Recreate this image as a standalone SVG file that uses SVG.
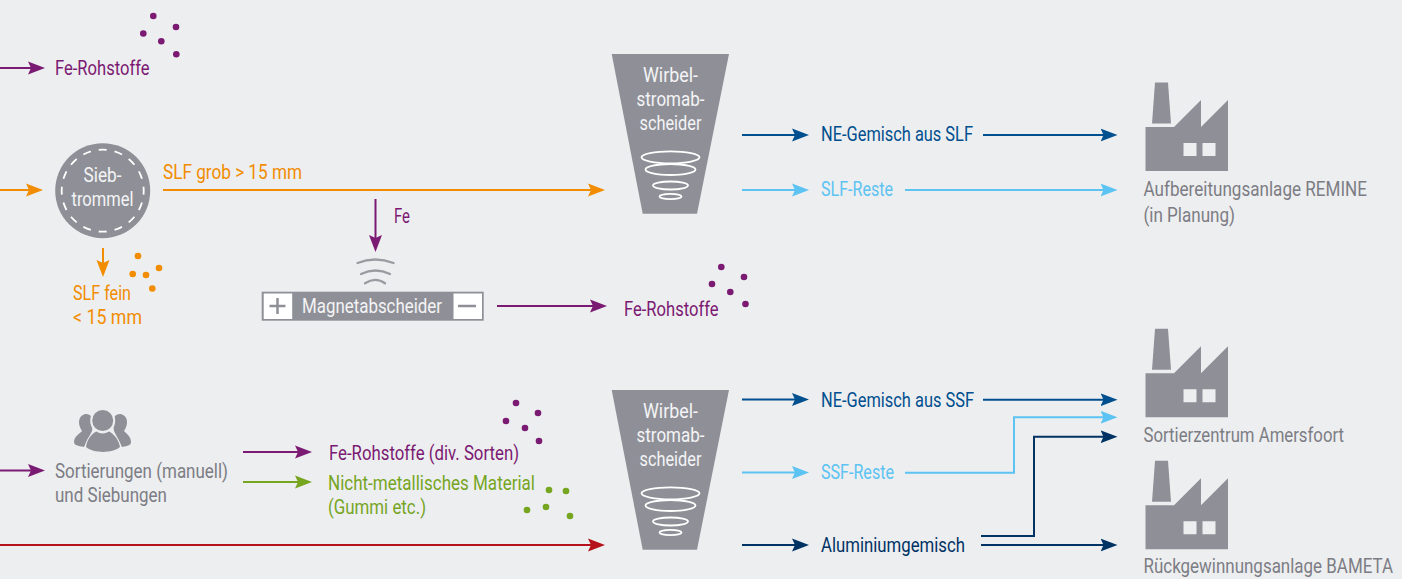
<svg xmlns="http://www.w3.org/2000/svg" width="1402" height="579" viewBox="0 0 1402 579">
<style>
text{font-family:Roboto,"Liberation Sans",sans-serif;font-size:19.5px}
.g{fill:#7c7d84}.w{fill:#f4f4f6;text-anchor:middle}.p{fill:#7b1a72}.o{fill:#f28c00}.n{fill:#004f8f}.l{fill:#5cc3f2}.d{fill:#003263}.v{fill:#76a51f}
.c line,.c path{fill:none;stroke-width:2}
.sp{stroke:#7b1a72}.so{stroke:#f28c00}.sn{stroke:#004f8f}.sl{stroke:#5cc3f2}.sd{stroke:#003263}.sr{stroke:#b5121b}.sv{stroke:#76a51f}
.shape{fill:#8f9097}.ring{fill:none;stroke:#fff;stroke-width:1.8}
</style>
<defs>
<marker id="ap" markerUnits="userSpaceOnUse" markerWidth="18" markerHeight="14" refX="11" refY="7" orient="auto"><path d="M0,.5 L17,7 L0,13.500 L3,7Z" fill="#7b1a72"/></marker>
<marker id="ao" markerUnits="userSpaceOnUse" markerWidth="18" markerHeight="14" refX="11" refY="7" orient="auto"><path d="M0,.5 L17,7 L0,13.500 L3,7Z" fill="#f28c00"/></marker>
<marker id="an" markerUnits="userSpaceOnUse" markerWidth="18" markerHeight="14" refX="11" refY="7" orient="auto"><path d="M0,.5 L17,7 L0,13.500 L3,7Z" fill="#004f8f"/></marker>
<marker id="al" markerUnits="userSpaceOnUse" markerWidth="18" markerHeight="14" refX="11" refY="7" orient="auto"><path d="M0,.5 L17,7 L0,13.500 L3,7Z" fill="#5cc3f2"/></marker>
<marker id="ad" markerUnits="userSpaceOnUse" markerWidth="18" markerHeight="14" refX="11" refY="7" orient="auto"><path d="M0,.5 L17,7 L0,13.500 L3,7Z" fill="#003263"/></marker>
<marker id="ar" markerUnits="userSpaceOnUse" markerWidth="18" markerHeight="14" refX="11" refY="7" orient="auto"><path d="M0,.5 L17,7 L0,13.500 L3,7Z" fill="#b5121b"/></marker>
<marker id="av" markerUnits="userSpaceOnUse" markerWidth="18" markerHeight="14" refX="11" refY="7" orient="auto"><path d="M0,.5 L17,7 L0,13.500 L3,7Z" fill="#76a51f"/></marker>
<g id="factoryShape">
<path class="shape" d="M1155,82.5H1168L1171,123.5H1152Z"/>
<path class="shape" fill-rule="evenodd" d="M1145.5,127H1174L1201,100V127L1228,100V171H1145.5ZM1183.5,143V156H1196.5V143ZM1202.5,143V156H1215.5V143Z"/>
</g>
<g id="funnelShape">
<path class="shape" d="M611.7,54H729L697,213.7H642.7Z"/>
<ellipse class="ring" cx="670.5" cy="157.3" rx="29" ry="6"/>
<ellipse class="ring" cx="670.5" cy="169.5" rx="25" ry="5.5"/>
<ellipse class="ring" cx="670.5" cy="185.5" rx="17.5" ry="4"/>
<ellipse class="ring" cx="670.5" cy="196.5" rx="11" ry="2.6"/>
<text class="w" x="670.5" y="82" textLength="55" lengthAdjust="spacingAndGlyphs">Wirbel-</text>
<text class="w" x="670.5" y="106" textLength="68" lengthAdjust="spacingAndGlyphs">stromab-</text>
<text class="w" x="670.5" y="130" textLength="62" lengthAdjust="spacingAndGlyphs">scheider</text>
</g>
</defs>
<rect width="1402" height="579" fill="#edeef0"/>

<g id="connectors" class="c">
<line class="sp" x1="0" y1="68" x2="39" y2="68" marker-end="url(#ap)"/>
<line class="so" x1="0" y1="190" x2="37" y2="190" marker-end="url(#ao)"/>
<line class="so" x1="163" y1="190" x2="599" y2="190" marker-end="url(#ao)"/>
<line class="so" x1="103" y1="248" x2="103" y2="271" marker-end="url(#ao)"/>
<line class="sp" x1="375.5" y1="199" x2="375.5" y2="246" marker-end="url(#ap)"/>
<line class="sp" x1="497" y1="306" x2="601" y2="306" marker-end="url(#ap)"/>
<line class="sn" x1="742" y1="135" x2="803" y2="135" marker-end="url(#an)"/>
<line class="sn" x1="983" y1="135" x2="1111.500" y2="135" marker-end="url(#an)"/>
<line class="sl" x1="742" y1="190" x2="803" y2="190" marker-end="url(#al)"/>
<line class="sl" x1="905" y1="190" x2="1111.500" y2="190" marker-end="url(#al)"/>
<line class="sp" x1="0" y1="470.5" x2="39" y2="470.5" marker-end="url(#ap)"/>
<line class="sp" x1="243" y1="452" x2="306" y2="452" marker-end="url(#ap)"/>
<line class="sv" x1="243" y1="482" x2="306" y2="482" marker-end="url(#av)"/>
<line class="sr" x1="0" y1="545" x2="599" y2="545" marker-end="url(#ar)"/>
<line class="sn" x1="742" y1="399.5" x2="803" y2="399.5" marker-end="url(#an)"/>
<line class="sn" x1="983" y1="399.7" x2="1111.500" y2="399.7" marker-end="url(#an)"/>
<line class="sl" x1="742" y1="472.5" x2="803" y2="472.5" marker-end="url(#al)"/>
<path class="sl" d="M905,472.7H1014V417.3H1111.500" marker-end="url(#al)"/>
<line class="sd" x1="742" y1="545" x2="803" y2="545" marker-end="url(#ad)"/>
<path class="sd" d="M981,536H1034V436.7H1111.500" marker-end="url(#ad)"/>
<line class="sd" x1="981" y1="545" x2="1111.500" y2="545" marker-end="url(#ad)"/>
</g>

<g id="fe-top">
<text class="p" x="55" y="75" textLength="94.500" lengthAdjust="spacingAndGlyphs">Fe-Rohstoffe</text>
<g class="p"><circle cx="153.3" cy="16" r="3.3"/><circle cx="176" cy="27" r="3.3"/><circle cx="143.3" cy="33.5" r="3.3"/><circle cx="161.3" cy="41.3" r="3.3"/><circle cx="176.3" cy="54.3" r="3.3"/></g>
</g>

<g id="siebtrommel">
<circle class="shape" cx="102.7" cy="190.7" r="47.5"/>
<circle cx="102.7" cy="190.7" r="41" fill="none" stroke="#fff" stroke-width="1.8" pathLength="256" stroke-dasharray="8 8" stroke-dashoffset="4"/>
<text class="w" x="102.5" y="182" textLength="38" lengthAdjust="spacingAndGlyphs">Sieb-</text>
<text class="w" x="102.5" y="206" textLength="62" lengthAdjust="spacingAndGlyphs">trommel</text>
</g>
<g id="slf-grob"><text class="o" x="163" y="179" textLength="139" lengthAdjust="spacingAndGlyphs">SLF grob &gt; 15 mm</text></g>
<g id="slf-fein">
<text class="o" x="73" y="300" textLength="58" lengthAdjust="spacingAndGlyphs">SLF fein</text>
<text class="o" x="73" y="324" textLength="69" lengthAdjust="spacingAndGlyphs">&lt; 15 mm</text>
<g class="o"><circle cx="138" cy="256" r="3.3"/><circle cx="132.7" cy="274" r="3.3"/><circle cx="146" cy="275" r="3.3"/><circle cx="159" cy="268" r="3.3"/><circle cx="152.3" cy="288.5" r="3.3"/></g>
</g>
<g id="fe-label"><text class="p" x="394" y="223" textLength="16" lengthAdjust="spacingAndGlyphs">Fe</text></g>

<g id="magnetabscheider">
<g fill="none" stroke="#9a9ba1" stroke-width="2.300" stroke-linecap="round">
<path d="M357.5,263Q375,256 393.500,263"/>
<path d="M361,274Q375.500,267 390,274"/>
<path d="M365,283.300Q375.500,276.500 385,283.300"/>
</g>
<rect x="261.700" y="291.700" width="222" height="29" fill="#8f9097"/>
<rect x="263.700" y="293.500" width="28.500" height="25.500" fill="#fff"/>
<rect x="453.500" y="293.500" width="28.500" height="25.500" fill="#fff"/>
<path d="M269.500,306H285.500M277.500,298V314M458,306H476" fill="none" stroke="#8f9097" stroke-width="2.500"/>
<text x="302" y="313" fill="#f4f4f6" textLength="140" lengthAdjust="spacingAndGlyphs">Magnetabscheider</text>
</g>

<g id="fe-mid">
<text class="p" x="624" y="316" textLength="94.500" lengthAdjust="spacingAndGlyphs">Fe-Rohstoffe</text>
<g class="p"><circle cx="721.300" cy="267" r="3.300"/><circle cx="744" cy="277" r="3.300"/><circle cx="712" cy="284" r="3.300"/><circle cx="730.300" cy="292" r="3.300"/><circle cx="745.500" cy="304" r="3.300"/></g>
</g>

<g id="wirbel-1"><use href="#funnelShape"/></g>
<g id="wirbel-2"><use href="#funnelShape" y="336"/></g>

<g id="ne-slf"><text class="n" x="821" y="141" textLength="152" lengthAdjust="spacingAndGlyphs">NE-Gemisch aus SLF</text></g>
<g id="slf-reste"><text class="l" x="821" y="196" textLength="72" lengthAdjust="spacingAndGlyphs">SLF-Reste</text></g>

<g id="remine">
<use href="#factoryShape"/>
<text class="g" x="1143.500" y="196" textLength="223.500" lengthAdjust="spacingAndGlyphs">Aufbereitungsanlage REMINE</text>
<text class="g" x="1143.500" y="222" textLength="91.500" lengthAdjust="spacingAndGlyphs">(in Planung)</text>
</g>
<g id="amersfoort">
<use href="#factoryShape" y="246.300"/>
<text class="g" x="1143.500" y="441.500" textLength="200.500" lengthAdjust="spacingAndGlyphs">Sortierzentrum Amersfoort</text>
</g>
<g id="bameta">
<use href="#factoryShape" y="378.300"/>
<text class="g" x="1143.500" y="573" textLength="249.500" lengthAdjust="spacingAndGlyphs">Rückgewinnungsanlage BAMETA</text>
</g>

<g id="sortierungen">
<g class="shape">
<path d="M79,422C79,416 84,414 86,414C91,414 93,418 93,423L92,431L84,447C78,446 74,445 74,442C74,437 79,434 82,431C80,428 79,425 79,422Z"/>
<path d="M127,422C127,416 122,414 120,414C115,414 113,418 113,423L114,431L122,447C128,446 131,445 131,442C131,437 127,434 124,431C126,428 127,425 127,422Z"/>
</g>
<ellipse cx="102.700" cy="420.700" rx="12.500" ry="13" fill="#edeef0"/>
<path d="M84,452C85,438 92,430 102.700,430C113,430 121,438 122,452Z" fill="#edeef0"/>
<g class="shape">
<ellipse cx="102.700" cy="420.500" rx="10.500" ry="10.500"/>
<path d="M86,447C87,440 91,434 96.500,431.500C100,434 105,434 109,431.500C114,434 119,440 120,447C112,453.500 94,453.500 86,447Z"/>
</g>
<text class="g" x="55" y="478" textLength="173" lengthAdjust="spacingAndGlyphs">Sortierungen (manuell)</text>
<text class="g" x="55" y="502" textLength="112" lengthAdjust="spacingAndGlyphs">und Siebungen</text>
</g>

<g id="fe-div">
<text class="p" x="329" y="460" textLength="190" lengthAdjust="spacingAndGlyphs">Fe-Rohstoffe (div. Sorten)</text>
<g class="p"><circle cx="516" cy="403" r="3.300"/><circle cx="538" cy="413" r="3.300"/><circle cx="506" cy="421" r="3.300"/><circle cx="525" cy="428" r="3.300"/><circle cx="539" cy="441" r="3.300"/></g>
</g>
<g id="nicht-metall">
<text class="v" x="328" y="490" textLength="207" lengthAdjust="spacingAndGlyphs">Nicht-metallisches Material</text>
<text class="v" x="328" y="514" textLength="98" lengthAdjust="spacingAndGlyphs">(Gummi etc.)</text>
<g class="v"><circle cx="549" cy="490" r="3.300"/><circle cx="566" cy="491" r="3.300"/><circle cx="527" cy="510" r="3.300"/><circle cx="546" cy="507" r="3.300"/><circle cx="570" cy="516" r="3.300"/></g>
</g>
<g id="ne-ssf"><text class="n" x="821" y="406.500" textLength="153" lengthAdjust="spacingAndGlyphs">NE-Gemisch aus SSF</text></g>
<g id="ssf-reste"><text class="l" x="821" y="478.500" textLength="73" lengthAdjust="spacingAndGlyphs">SSF-Reste</text></g>
<g id="alu"><text class="d" x="821" y="551.500" textLength="144" lengthAdjust="spacingAndGlyphs">Aluminiumgemisch</text></g>
</svg>
